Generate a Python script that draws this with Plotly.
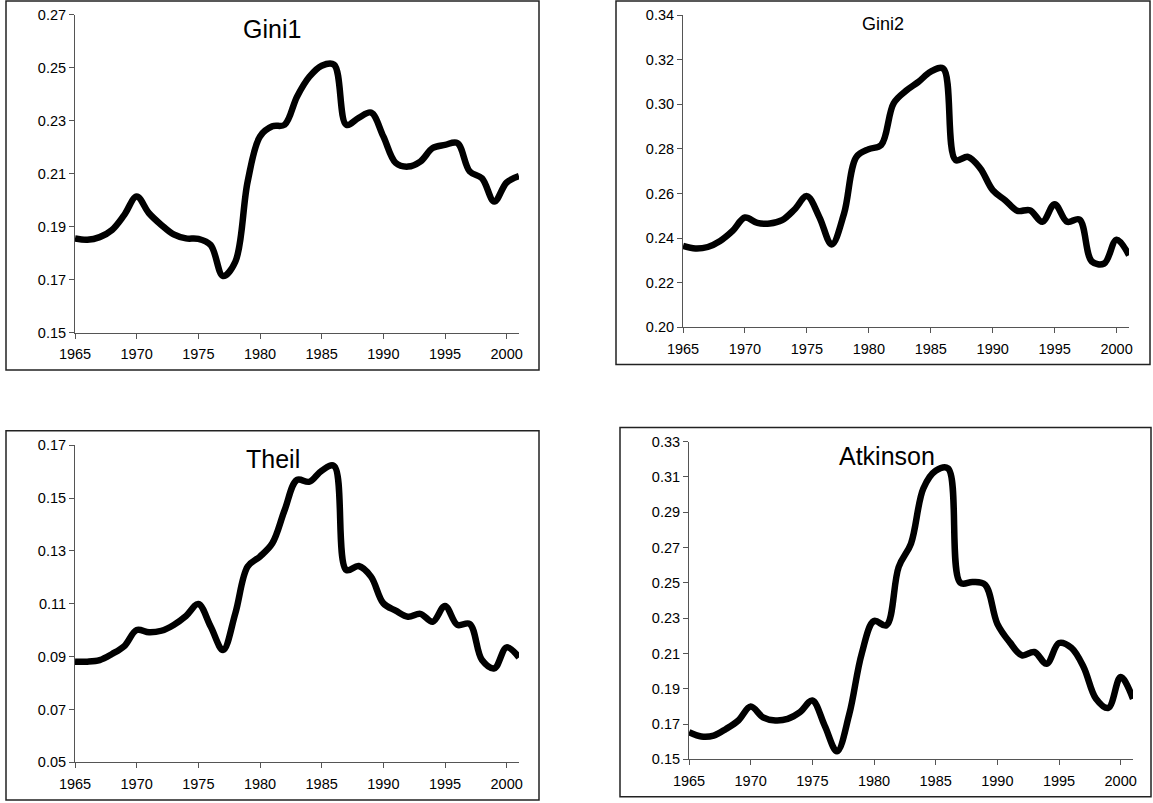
import plotly.graph_objects as go

years = list(range(1965, 2002))

gini1 = [0.1855, 0.1850, 0.1860, 0.1887, 0.1944, 0.2013, 0.1950, 0.1906, 0.1870, 0.1855,
         0.1853, 0.1830, 0.1713, 0.1767, 0.2070, 0.2240, 0.2278, 0.2284, 0.2390, 0.2465,
         0.2507, 0.2511, 0.2284, 0.2310, 0.2330, 0.2240, 0.2140, 0.2126, 0.2145, 0.2196,
         0.2208, 0.2215, 0.2108, 0.2082, 0.1994, 0.2066, 0.2090]

gini2 = [0.2365, 0.2353, 0.2360, 0.2387, 0.2432, 0.2492, 0.2468, 0.2465, 0.2480, 0.2528,
         0.2588, 0.2495, 0.2371, 0.2510, 0.2764, 0.2799, 0.2817, 0.3004, 0.3060, 0.3100,
         0.3146, 0.3160, 0.2750, 0.2764, 0.2712, 0.2615, 0.2570, 0.2522, 0.2525, 0.2473,
         0.2552, 0.2473, 0.2483, 0.2295, 0.2286, 0.2393, 0.2323]

theil = [0.0881, 0.0881, 0.0887, 0.0910, 0.0940, 0.1001, 0.0992, 0.0998, 0.1020, 0.1054,
         0.1099, 0.1014, 0.0925, 0.1064, 0.1241, 0.1279, 0.1329, 0.1455, 0.1569, 0.1562,
         0.1604, 0.1622, 0.1228, 0.1243, 0.1203, 0.1102, 0.1074, 0.1051, 0.1062, 0.1032,
         0.1092, 0.1020, 0.1024, 0.0887, 0.0856, 0.0935, 0.0897]

atkinson = [0.1653, 0.1629, 0.1634, 0.1672, 0.1720, 0.1799, 0.1738, 0.1720, 0.1729, 0.1767,
            0.1833, 0.1691, 0.1545, 0.1757, 0.2098, 0.2284, 0.2259, 0.2590, 0.2723, 0.3035,
            0.3135, 0.3149, 0.2500, 0.2505, 0.2490, 0.2268, 0.2164, 0.2089, 0.2108, 0.2041,
            0.2159, 0.2132, 0.2022, 0.1843, 0.1791, 0.1966, 0.1843]

titles = ["Gini1", "Gini2", "Theil", "Atkinson"]
series = [gini1, gini2, theil, atkinson]
y_ranges = [(0.15, 0.27), (0.20, 0.34), (0.05, 0.17), (0.15, 0.33)]
x_ticks = [1965, 1970, 1975, 1980, 1985, 1990, 1995, 2000]

W, H = 1153, 803
# plot areas in pixels: (left, right, top, bottom)
plot_px = [(75, 519, 14.5, 332.5), (683, 1129, 15, 327.3),
           (75, 519, 445.3, 762.3), (689, 1133, 441.7, 759.3)]
border_px = [(6, 539, 1, 370), (616, 1150, 1, 364.5),
             (6, 539, 430.7, 800), (620, 1151, 427.5, 796.7)]
title_px = [(271.5, 28.5, 25), (882.5, 23.5, 18), (272.5, 459.5, 25), (887, 456, 25)]

fig = go.Figure()
layout = dict(width=W, height=H, margin=dict(l=0, r=0, t=0, b=0, pad=0),
              paper_bgcolor="white", plot_bgcolor="white", showlegend=False,
              font=dict(family="Liberation Sans, Arial, sans-serif", size=14, color="black"))
shapes = []
annotations = []
axcol = "#555555"
for i in range(4):
    n = "" if i == 0 else str(i + 1)
    fig.add_trace(go.Scatter(x=years, y=series[i], mode="lines",
                             line=dict(color="black", width=6.5, shape="spline", smoothing=1.0),
                             xaxis="x" + n, yaxis="y" + n, hoverinfo="skip"))
    l, r, t, b = plot_px[i]
    layout["xaxis" + n] = dict(domain=[l / W, r / W], anchor="y" + n, range=[1965, 2001],
                               tickvals=x_ticks, ticks="outside", ticklen=5, tickcolor=axcol,
                               showline=True, linecolor=axcol, linewidth=1, showgrid=False,
                               zeroline=False, automargin=False, ticklabelstandoff=3,
                               tickfont=dict(size=14.5))
    y0, y1 = y_ranges[i]
    layout["yaxis" + n] = dict(domain=[1 - b / H, 1 - t / H], anchor="x" + n, range=[y0, y1],
                               dtick=0.02, tick0=y0, tickformat=".2f", ticks="outside", ticklen=5,
                               tickcolor=axcol, showline=True, linecolor=axcol, linewidth=1,
                               showgrid=False, zeroline=False, automargin=False,
                               tickfont=dict(size=14.5))
    bl, br, bt, bb = border_px[i]
    shapes.append(dict(type="rect", xref="paper", yref="paper", x0=bl / W, x1=br / W,
                       y0=1 - bb / H, y1=1 - bt / H, line=dict(color="#222222", width=1.5),
                       fillcolor="rgba(0,0,0,0)", layer="below"))
    tx, ty, ts = title_px[i]
    annotations.append(dict(text=titles[i], xref="paper", yref="paper", x=tx / W, y=1 - ty / H,
                            xanchor="center", yanchor="middle", showarrow=False,
                            font=dict(size=ts, color="black")))
layout["shapes"] = shapes
layout["annotations"] = annotations
fig.update_layout(**layout)
fig.write_html("out.html", config={"displayModeBar": False},
               post_script="document.body.style.margin='0';document.body.style.overflow='hidden';")
